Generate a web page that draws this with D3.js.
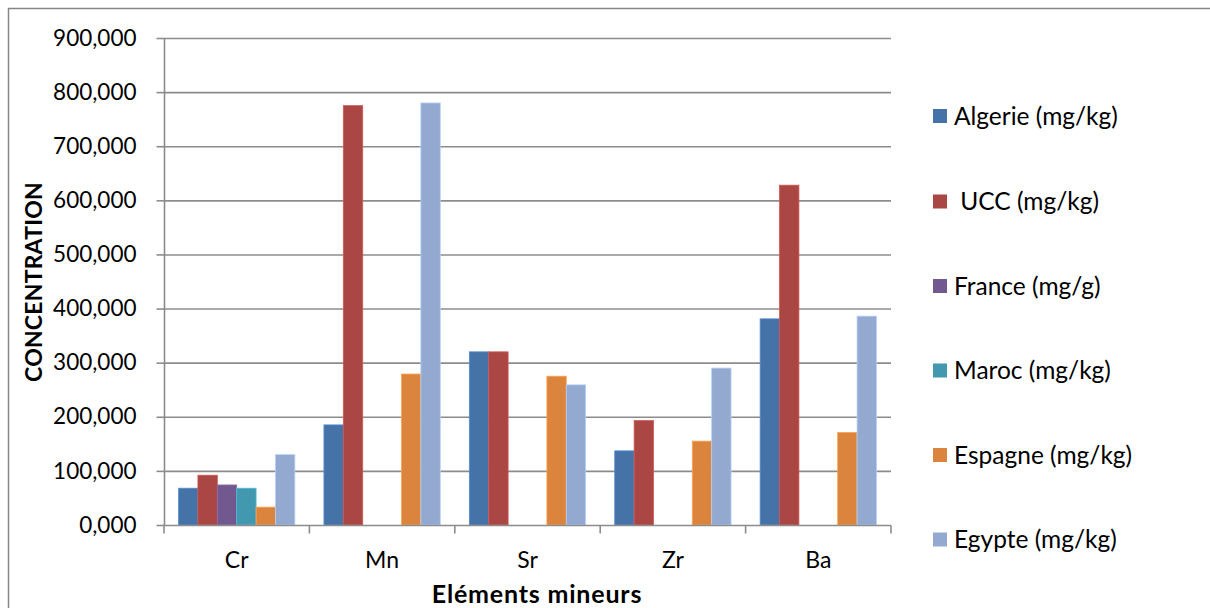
<!DOCTYPE html>
<html>
<head>
<meta charset="utf-8">
<script src="https://cdn.jsdelivr.net/npm/d3@7"></script>
<style>
  html, body { margin: 0; padding: 0; background: #fff; }
  svg { display: block; font-family: Lato, "Open Sans", sans-serif; }
</style>
</head>
<body>
<svg id="chart" width="1210" height="608"></svg>
<script>
// Minor elements (x categories)
const categories = ["Cr", "Mn", "Sr", "Zr", "Ba"];

// One entry per source; null = no value reported
const seriesNames = [
  "Algerie (mg/kg)",
  " UCC (mg/kg)",
  "France (mg/g)",
  "Maroc (mg/kg)",
  "Espagne (mg/kg)",
  "Egypte (mg/kg)"
];
const algerie = [68, 185, 320, 137, 381];
const ucc     = [92, 775, 320, 193, 628];
const france  = [74, null, null, null, null];
const maroc   = [68, null, null, null, null];
const espagne = [33, 279, 275, 155, 171];
const egypte  = [130, 780, 259, 290, 386];

const yTicks = [0, 100, 200, 300, 400, 500, 600, 700, 800, 900];
const yTickLabels = ["0,000", "100,000", "200,000", "300,000", "400,000",
                     "500,000", "600,000", "700,000", "800,000", "900,000"];

const seriesValues = [algerie, ucc, france, maroc, espagne, egypte];
const colors = ["#4572A7", "#AA4643", "#71588F", "#4198AF", "#DB843D", "#93A9CF"];

const svg = d3.select("#chart");

// chart area frame (runs off the right and bottom edges)
svg.append("rect")
  .attr("x", 8.5).attr("y", 8.5)
  .attr("width", 1300).attr("height", 700)
  .attr("fill", "#fff")
  .attr("stroke", "#868686").attr("stroke-width", 1.5);

const plot = { left: 164, right: 891, top: 38, bottom: 525 };

const x = d3.scaleBand().domain(categories).range([plot.left, plot.right]).padding(0);
const xInner = d3.scaleBand()
  .domain(d3.range(seriesNames.length))
  .range([0, x.bandwidth()])
  .paddingInner(0).paddingOuter(0.75);
const y = d3.scaleLinear().domain([0, 900]).range([plot.bottom, plot.top]);

// horizontal gridlines
svg.append("g").selectAll("line")
  .data(yTicks.filter(t => t > 0))
  .join("line")
  .attr("x1", plot.left).attr("x2", plot.right)
  .attr("y1", d => y(d) + 0.5).attr("y2", d => y(d) + 0.5)
  .attr("stroke", "#8c8c8c").attr("stroke-width", 1.6);

// bars
const barData = [];
seriesValues.forEach((vals, s) => {
  vals.forEach((v, c) => {
    if (v !== null) barData.push({ s, c: categories[c], v });
  });
});
svg.append("g").selectAll("rect")
  .data(barData)
  .join("rect")
  .attr("x", d => x(d.c) + xInner(d.s))
  .attr("y", d => y(d.v))
  .attr("width", xInner.bandwidth())
  .attr("height", d => y(0) - y(d.v))
  .attr("fill", d => colors[d.s])
  .attr("stroke", d => d3.color(colors[d.s]).brighter(0.6))
  .attr("stroke-width", 0.8);

// y axis
const yAxis = d3.axisLeft(y)
  .tickValues(yTicks)
  .tickFormat((d, i) => yTickLabels[i])
  .tickSize(8)
  .tickPadding(20);
const gy = svg.append("g")
  .attr("transform", `translate(${plot.left + 0.5},0)`)
  .call(yAxis);
gy.select(".domain").attr("stroke", "#8c8c8c").attr("stroke-width", 1.6)
  .attr("d", `M0,${plot.top}V${plot.bottom}`);
gy.selectAll(".tick line").attr("stroke", "#8c8c8c").attr("stroke-width", 1.6);
gy.selectAll(".tick text")
  .attr("fill", "#000")
  .style("font-size", "22.5px")
  .style("font-family", "Lato, sans-serif");

// x axis: tick marks at category boundaries
const gx = svg.append("g")
  .attr("transform", `translate(0,${plot.bottom + 0.5})`);
gx.append("line")
  .attr("x1", plot.left).attr("x2", plot.right)
  .attr("stroke", "#8c8c8c").attr("stroke-width", 1.6);
const boundaries = categories.map(c => x(c)).concat([plot.right]);
gx.selectAll("line.tk")
  .data(boundaries)
  .join("line").attr("class", "tk")
  .attr("x1", d => d).attr("x2", d => d)
  .attr("y1", 0).attr("y2", 8)
  .attr("stroke", "#8c8c8c").attr("stroke-width", 1.6);
gx.selectAll("text")
  .data(categories)
  .join("text")
  .attr("x", d => x(d) + x.bandwidth() / 2)
  .attr("y", 42)
  .attr("text-anchor", "middle")
  .style("font-size", "23px")
  .text(d => d);

// axis titles
svg.append("text")
  .attr("transform", `translate(42,282) rotate(-90)`)
  .attr("text-anchor", "middle")
  .style("font-size", "23px").style("font-weight", "bold")
  .style("letter-spacing", "0.2px")
  .text("CONCENTRATION");
svg.append("text")
  .attr("x", 537).attr("y", 603)
  .attr("text-anchor", "middle")
  .style("font-size", "25px").style("font-weight", "bold")
  .style("letter-spacing", "0.8px")
  .text("Eléments mineurs");

// legend
const legendY = [116, 201.5, 286, 370.5, 455, 539.5];
const lg = svg.append("g").selectAll("g")
  .data(seriesNames)
  .join("g")
  .attr("transform", (d, i) => `translate(933,${legendY[i]})`);
lg.append("rect")
  .attr("x", 0).attr("y", -7).attr("width", 14).attr("height", 14)
  .attr("fill", (d, i) => colors[i]);
lg.append("text")
  .attr("x", 21).attr("y", 0)
  .attr("dy", "0.35em")
  .attr("xml:space", "preserve")
  .style("white-space", "pre")
  .style("font-size", "24.5px")
  .text(d => d);
</script>
</body>
</html>
